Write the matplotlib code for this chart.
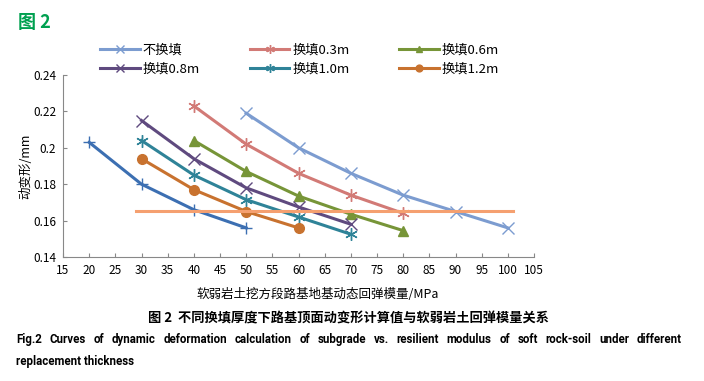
import matplotlib
matplotlib.use("Agg")
import matplotlib.pyplot as plt

plt.rcParams['font.family'] = ['Noto Sans CJK SC', 'DejaVu Sans']

# ---- data ----
x_none = [50, 60, 70, 80, 90, 100]
y_none = [0.219, 0.200, 0.186, 0.174, 0.165, 0.156]
x_03 = [40, 50, 60, 70, 80]
y_03 = [0.223, 0.202, 0.186, 0.174, 0.164]
x_06 = [40, 50, 60, 70, 80]
y_06 = [0.204, 0.187, 0.1735, 0.1635, 0.1545]
x_08 = [30, 40, 50, 60, 70]
y_08 = [0.215, 0.194, 0.178, 0.1675, 0.158]
x_10 = [30, 40, 50, 60, 70]
y_10 = [0.204, 0.185, 0.1715, 0.162, 0.1525]
x_12 = [30, 40, 50, 60]
y_12 = [0.194, 0.177, 0.165, 0.156]
x_extra = [20, 30, 40, 50]
y_extra = [0.203, 0.180, 0.166, 0.156]
x_limit = [29, 101]
y_limit = [0.165, 0.165]

labels = ['不换填', '换填0.3m', '换填0.6m', '换填0.8m', '换填1.0m', '换填1.2m']
x_ticks = list(range(15, 106, 5))
y_ticks = [0.14, 0.16, 0.18, 0.2, 0.22, 0.24]
y_ticklabels = ['0.14', '0.16', '0.18', '0.2', '0.22', '0.24']
caption_cn = '图 2  不同换填厚度下路基顶面动变形计算值与软弱岩土回弹模量关系'
caption_en1 = 'Fig.2 Curves of dynamic deformation calculation of subgrade vs. resilient modulus of soft rock-soil under different'
caption_en2 = 'replacement thickness'

W, H = 704, 381
fig = plt.figure(figsize=(W/100, H/100), dpi=100)
ax = fig.add_axes([63/W, 1-257/H, (534-63)/W, (257-75)/H])

lw = 2.2
h = []
h.append(ax.plot(x_none, y_none, color='#7C9CD0', lw=lw, marker='x', ms=8, mew=1.0)[0])
h.append(ax.plot(x_03, y_03, color='#D27A76', lw=lw, marker=(6, 2, 0), ms=9, mew=1.0)[0])
h.append(ax.plot(x_06, y_06, color='#779538', lw=lw, marker='^', ms=7)[0])
h.append(ax.plot(x_08, y_08, color='#5F4A7F', lw=lw, marker='x', ms=8, mew=1.0)[0])
h.append(ax.plot(x_10, y_10, color='#2F8398', lw=lw, marker=(6, 2, 0), ms=9, mew=1.0)[0])
h.append(ax.plot(x_12, y_12, color='#C8722F', lw=lw, marker='o', ms=7)[0])
ax.plot(x_extra, y_extra, color='#3C6FB2', lw=lw, marker='+', ms=9, mew=1.0)
ax.plot(x_limit, y_limit, color='#F5A070', lw=lw)

ax.set_xlim(15, 105)
ax.set_ylim(0.14, 0.24)
ax.set_xticks(x_ticks)
ax.set_yticks(y_ticks)
ax.set_yticklabels(y_ticklabels)
for s in ['top', 'right']:
    ax.spines[s].set_visible(False)
for s in ['left', 'bottom']:
    ax.spines[s].set_color('#888888')
ax.tick_params(direction='in', length=3, color='#888888', labelsize=8.5, pad=5)
ax.set_xlabel('软弱岩土挖方段路基地基动态回弹模量/MPa', fontsize=9)
ax.xaxis.set_label_coords((318-63)/471, -0.17)
ax.set_ylabel('动变形/mm', fontsize=9)
ax.yaxis.set_label_coords(-0.065, 0.5)

order = [0, 3, 1, 4, 2, 5]
fig.legend([h[i] for i in order], [labels[i] for i in order], loc='upper left',
           bbox_to_anchor=(95/W, 1-38/H), ncol=3, frameon=False, fontsize=9.5,
           handlelength=3, columnspacing=3.8, labelspacing=0.45, handletextpad=0.2,
           borderaxespad=0, markerscale=0.7)

fig.text(18/W, 1-22/H, '图 2', color='#00A050', fontsize=13, fontweight='bold', va='center')
fig.text(348/W, 1-318/H, caption_cn, fontsize=9.5, fontweight='bold', ha='center', va='center')

# justified English caption line
en_font = ['Roboto', 'DejaVu Sans']
fig.canvas.draw()
renderer = fig.canvas.get_renderer()
words = caption_en1.split(' ')
objs = [fig.text(0, 1-343/H, w, fontsize=8.3, fontweight='bold', va='baseline', family=en_font)
        for w in words]
widths = [o.get_window_extent(renderer).width for o in objs]
left, right = 16, 682
gap = (right - left - sum(widths)) / (len(words) - 1)
xpos = left
for o, wdt in zip(objs, widths):
    o.set_x(xpos / W)
    xpos += wdt + gap
fig.text(16/W, 1-365/H, caption_en2, fontsize=8.3, fontweight='bold', ha='left', va='baseline',
         family=en_font)

fig.savefig('out.png', dpi=100)
